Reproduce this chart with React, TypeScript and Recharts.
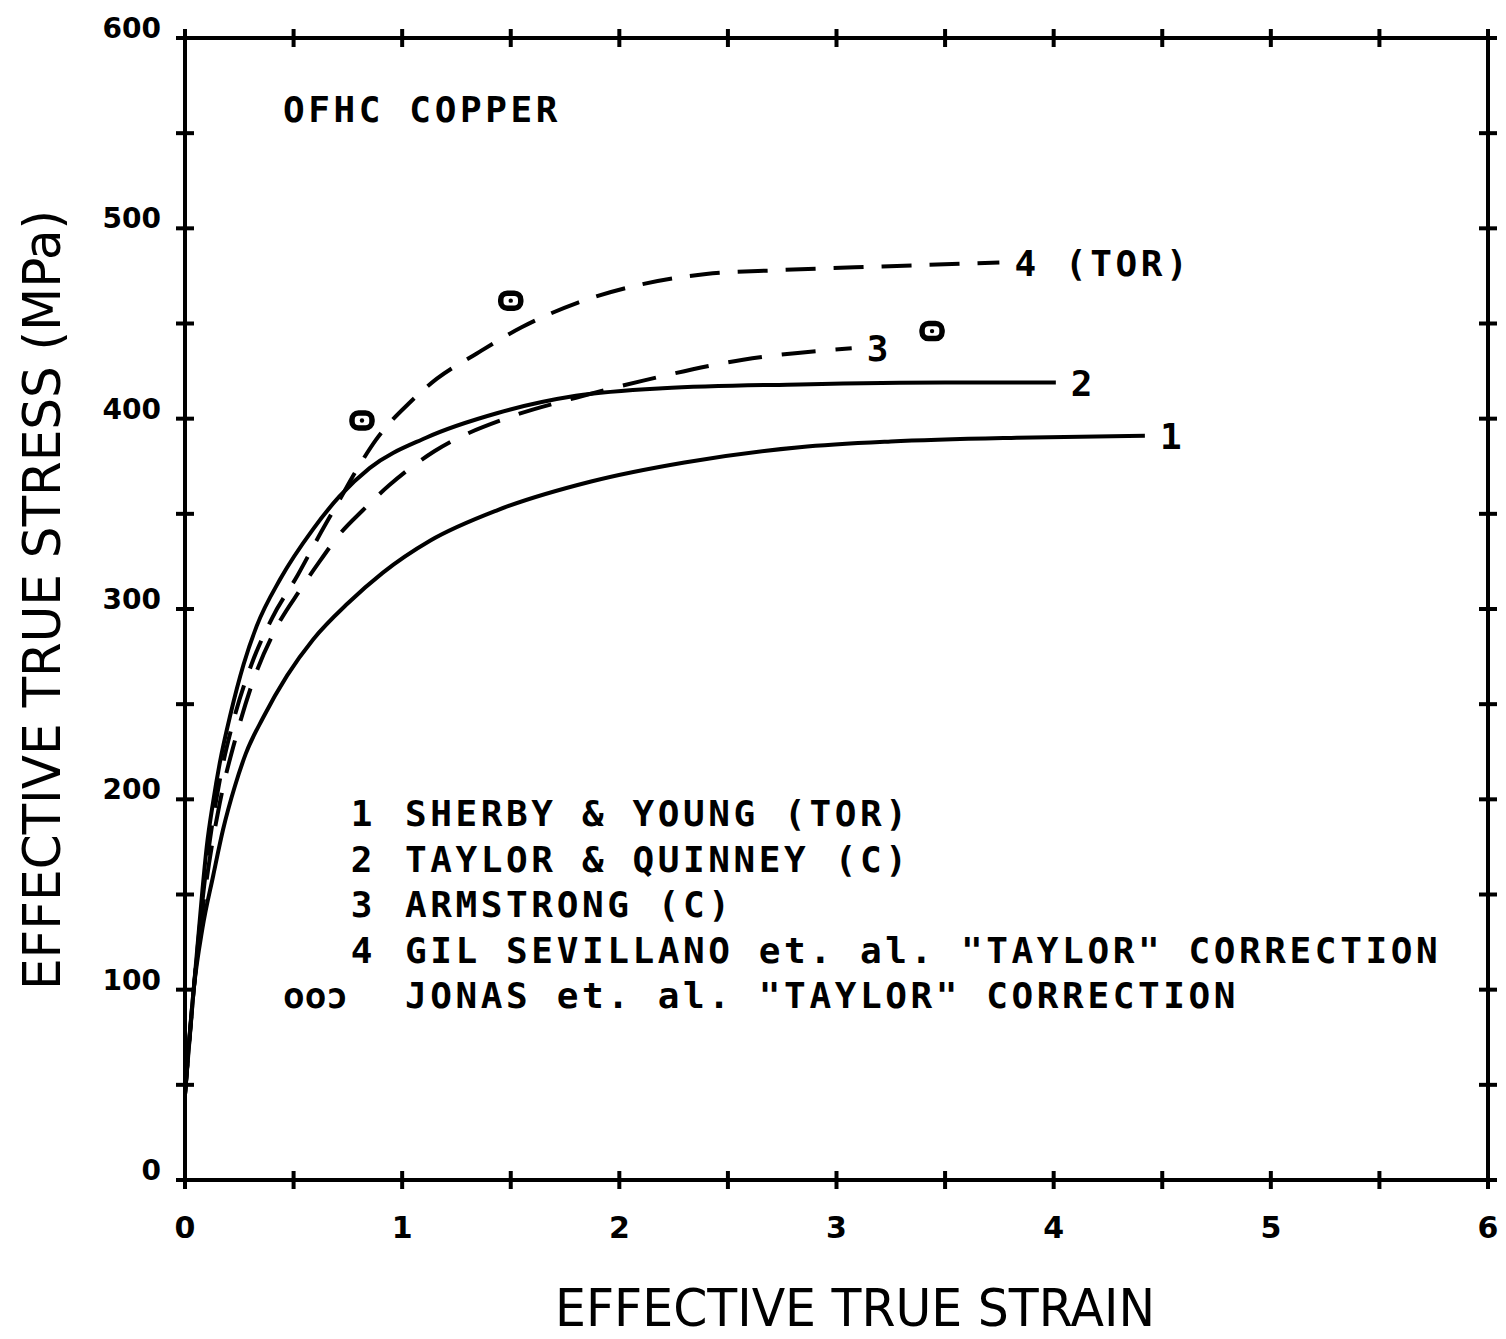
import React from "react";
import { ComposedChart, Line, Scatter, XAxis, YAxis } from "recharts";

const xTicks = [0, 0.5, 1, 1.5, 2, 2.5, 3, 3.5, 4, 4.5, 5, 5.5, 6];
const yTicks = [0, 50, 100, 150, 200, 250, 300, 350, 400, 450, 500, 550, 600];

const sherbyYoung = [
  { x: 0, y: 45 }, { x: 0.04, y: 100 }, { x: 0.08, y: 132 }, { x: 0.13, y: 160 },
  { x: 0.175, y: 184 }, { x: 0.23, y: 207 }, { x: 0.28, y: 224 }, { x: 0.36, y: 243 },
  { x: 0.47, y: 265 }, { x: 0.59, y: 284 }, { x: 0.75, y: 303 }, { x: 0.91, y: 319 },
  { x: 1.13, y: 336 }, { x: 1.44, y: 352 }, { x: 1.87, y: 367 }, { x: 2.3, y: 377 },
  { x: 2.83, y: 385 }, { x: 3.25, y: 388 }, { x: 3.83, y: 390 }, { x: 4.42, y: 391 },
];
const taylorQuinney = [
  { x: 0, y: 45 }, { x: 0.04, y: 100 }, { x: 0.08, y: 152 }, { x: 0.1, y: 175 },
  { x: 0.13, y: 199 }, { x: 0.16, y: 219 }, { x: 0.21, y: 245 }, { x: 0.27, y: 271 },
  { x: 0.33, y: 291 }, { x: 0.44, y: 316 }, { x: 0.59, y: 342 }, { x: 0.71, y: 359 },
  { x: 0.85, y: 374 }, { x: 1.11, y: 390 }, { x: 1.44, y: 403 }, { x: 1.8, y: 412 },
  { x: 2.2, y: 416 }, { x: 2.83, y: 418 }, { x: 3.5, y: 419 }, { x: 4.01, y: 419 },
];
const armstrong = [
  { x: 0, y: 45 }, { x: 0.04, y: 100 }, { x: 0.1, y: 158 }, { x: 0.16, y: 198 },
  { x: 0.24, y: 235 }, { x: 0.31, y: 261 }, { x: 0.42, y: 290 }, { x: 0.53, y: 310 },
  { x: 0.62, y: 325 }, { x: 0.71, y: 339 }, { x: 0.82, y: 352 }, { x: 0.94, y: 365 },
  { x: 1.15, y: 383 }, { x: 1.5, y: 401 }, { x: 1.8, y: 411 }, { x: 2.11, y: 420 },
  { x: 2.57, y: 431 }, { x: 3.07, y: 437 },
];
const gilSevillano = [
  { x: 0, y: 45 }, { x: 0.04, y: 100 }, { x: 0.1, y: 166 }, { x: 0.16, y: 210 },
  { x: 0.22, y: 240 }, { x: 0.3, y: 269 }, { x: 0.4, y: 295 }, { x: 0.52, y: 318 },
  { x: 0.62, y: 339 }, { x: 0.71, y: 357 }, { x: 0.79, y: 373 }, { x: 0.88, y: 389 },
  { x: 1.04, y: 409 }, { x: 1.16, y: 421 }, { x: 1.34, y: 434 }, { x: 1.55, y: 448 },
  { x: 1.81, y: 461 }, { x: 2.08, y: 470 }, { x: 2.4, y: 476 }, { x: 2.73, y: 478 },
  { x: 3.21, y: 480 }, { x: 3.75, y: 482 },
];
const jonas = [
  { x: 0.815, y: 399 }, { x: 1.5, y: 462 }, { x: 3.44, y: 446 },
];

const legendNums = ["1", "2", "3", "4", "ooɔ"];
const legendTexts = [
  "SHERBY & YOUNG (TOR)",
  "TAYLOR & QUINNEY (C)",
  "ARMSTRONG (C)",
  "GIL SEVILLANO et. al. \"TAYLOR\" CORRECTION",
  "JONAS et. al. \"TAYLOR\" CORRECTION",
];

const MONO = "'DejaVu Sans Mono', 'Liberation Mono', monospace";
const SANS = "'DejaVu Sans', sans-serif";
const COND = "'DejaVu Sans Condensed', 'Liberation Sans Narrow', 'DejaVu Sans', sans-serif";
const TXT = { fontFamily: MONO, fontWeight: "bold" as const, fontSize: 36, letterSpacing: 3.6, fill: "#000" };

const BottomTick = (props: any) => {
  const { x, y, payload } = props;
  const v = payload.value;
  return (
    <g>
      <line x1={x} y1={y - 9} x2={x} y2={y + 9} stroke="#000" strokeWidth={4} />
      {Number.isInteger(v) && (
        <text x={x} y={y + 58} textAnchor="middle" fontFamily={SANS} fontWeight="bold" fontSize={30} fill="#000">
          {v}
        </text>
      )}
    </g>
  );
};
const TopTick = (props: any) => {
  const { x, y } = props;
  return <line x1={x} y1={y - 9} x2={x} y2={y + 9} stroke="#000" strokeWidth={4} />;
};
const LeftTick = (props: any) => {
  const { x, y, payload } = props;
  const v = payload.value;
  return (
    <g>
      <line x1={x - 9} y1={y} x2={x + 9} y2={y} stroke="#000" strokeWidth={4} />
      {v % 100 === 0 && (
        <text x={x - 24} y={y} textAnchor="end" fontFamily={SANS} fontWeight="bold" fontSize={28} fill="#000">
          {v}
        </text>
      )}
    </g>
  );
};
const RightTick = (props: any) => {
  const { x, y } = props;
  return <line x1={x - 9} y1={y} x2={x + 9} y2={y} stroke="#000" strokeWidth={4} />;
};

const endLabel = (text: string, len: number) => (props: any) => {
  const { x, y, index } = props;
  if (index !== len - 1) return null;
  return (
    <text x={x + 15} y={y + 13} {...TXT}>
      {text}
    </text>
  );
};

const JonasMarker = (props: any) => {
  const { cx, cy } = props;
  return (
    <g>
      <rect x={cx - 10} y={cy - 7.5} width={20} height={15} rx={6.5} fill="#fff" stroke="#000" strokeWidth={5.5} />
      <circle cx={cx} cy={cy} r={2.2} fill="#000" />
    </g>
  );
};

export default function App() {
  return (
    <div style={{ position: "absolute", left: 0, top: 0, width: 1506, height: 1339, background: "#fff" }}>
      <ComposedChart width={1506} height={1339} margin={{ top: 0, right: 0, bottom: 0, left: 0 }}>
        <XAxis xAxisId="b" type="number" dataKey="x" domain={[0, 6]} ticks={xTicks} tick={<BottomTick />}
          tickLine={false} tickSize={0} tickMargin={0} height={159} axisLine={{ stroke: "#000", strokeWidth: 4 }} allowDataOverflow />
        <XAxis xAxisId="t" orientation="top" type="number" dataKey="x" domain={[0, 6]} ticks={xTicks} tick={<TopTick />}
          tickLine={false} tickSize={0} tickMargin={0} height={38} axisLine={{ stroke: "#000", strokeWidth: 4 }} allowDataOverflow />
        <YAxis yAxisId="l" type="number" dataKey="y" domain={[0, 600]} ticks={yTicks} tick={<LeftTick />}
          tickLine={false} tickSize={0} tickMargin={0} width={185} axisLine={{ stroke: "#000", strokeWidth: 4 }} allowDataOverflow />
        <YAxis yAxisId="r" orientation="right" type="number" dataKey="y" domain={[0, 600]} ticks={yTicks} tick={<RightTick />}
          tickLine={false} tickSize={0} tickMargin={0} width={18} axisLine={{ stroke: "#000", strokeWidth: 4 }} allowDataOverflow />

        <Line xAxisId="b" yAxisId="l" data={sherbyYoung} dataKey="y" type="monotone" stroke="#000" strokeWidth={4}
          dot={false} isAnimationActive={false} label={endLabel("1", sherbyYoung.length)} />
        <Line xAxisId="b" yAxisId="l" data={taylorQuinney} dataKey="y" type="monotone" stroke="#000" strokeWidth={4}
          dot={false} isAnimationActive={false} label={endLabel("2", taylorQuinney.length)} />
        <Line xAxisId="b" yAxisId="l" data={armstrong} dataKey="y" type="monotone" stroke="#000" strokeWidth={4}
          strokeDasharray="34 20" dot={false} isAnimationActive={false} label={endLabel("3", armstrong.length)} />
        <Line xAxisId="b" yAxisId="l" data={gilSevillano} dataKey="y" type="monotone" stroke="#000" strokeWidth={4}
          strokeDasharray="30 18" dot={false} isAnimationActive={false} label={endLabel("4 (TOR)", gilSevillano.length)} />
        <Scatter xAxisId="b" yAxisId="l" data={jonas} dataKey="y" shape={<JonasMarker />} isAnimationActive={false} />

        <text x={283} y={122} {...TXT}>
          OFHC COPPER
        </text>
        {legendTexts.map((t, i) => (
          <g key={i}>
            <text x={i === 4 ? 348 : 376} y={826 + i * 45.5} textAnchor="end" {...TXT} letterSpacing={i === 4 ? 0 : 3.6}>
              {legendNums[i]}
            </text>
            <text x={405} y={826 + i * 45.5} {...TXT}>
              {t}
            </text>
          </g>
        ))}
        <text x={855} y={1326} textAnchor="middle" fontFamily={COND} fontSize={52} textLength={600}
          lengthAdjust="spacingAndGlyphs" fill="#000">
          EFFECTIVE TRUE STRAIN
        </text>
        <text x={0} y={0} transform="translate(60,600) rotate(-90)" textAnchor="middle" fontFamily={COND} fontSize={52}
          textLength={780} lengthAdjust="spacingAndGlyphs" fill="#000">
          EFFECTIVE TRUE STRESS (MPa)
        </text>
      </ComposedChart>
    </div>
  );
}
